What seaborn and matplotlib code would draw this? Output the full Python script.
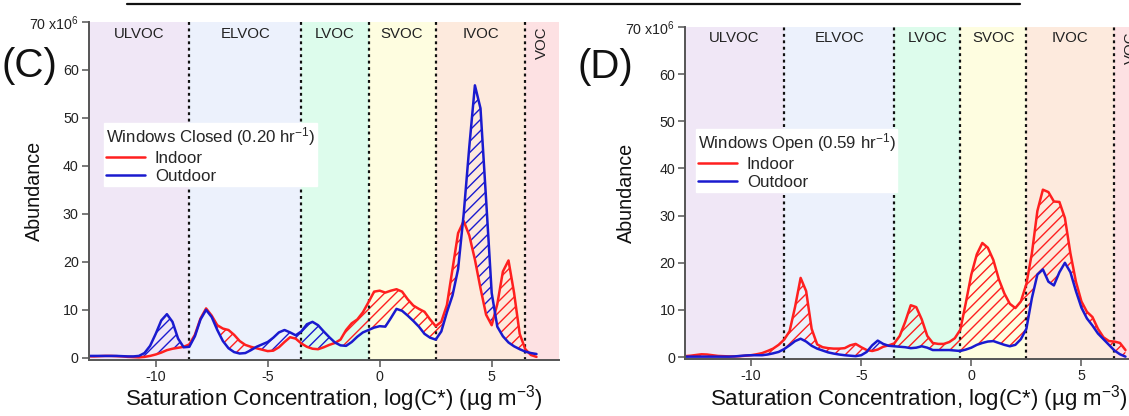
import numpy as np
import pandas as pd
import matplotlib
matplotlib.use("Agg")
import matplotlib.pyplot as plt
from matplotlib.lines import Line2D
import seaborn as sns

# ---------------- data ----------------
log_c = np.linspace(-13, 7, 81)  # sampling grid, step 0.25

closed_indoor = [
    0.3, 0.3, 0.35, 0.4,
    0.4, 0.35, 0.3, 0.2,
    0.15, 0.1, 0.2, 0.4,
    0.7, 1.1, 1.6, 1.9,
    2.1, 2.3, 2.8, 4.8,
    8.2, 10.3, 8.8, 6.8,
    6.1, 5.8, 4.8, 3.5,
    2.7, 2.3, 2.0, 1.7,
    1.4, 1.5, 2.2, 3.3,
    4.3, 4.0, 3.0, 2.3,
    1.9, 1.8, 2.2, 2.7,
    3.1, 3.8, 5.8, 7.2,
    8.0, 9.5, 11.6, 13.8,
    14.0, 13.6, 14.0, 14.3,
    13.8, 12.2, 10.9, 10.2,
    9.6, 8.0, 6.6, 7.5,
    11.0, 18.5, 26.0, 28.5,
    25.5, 20.5, 14.5, 9.0,
    6.8, 11.2, 18.0, 20.3,
    13.5, 5.0, 1.8, 0.6,
    0.2]
closed_outdoor = [
    0.4, 0.4, 0.4, 0.4,
    0.4, 0.4, 0.35, 0.3,
    0.3, 0.4, 1.0, 2.5,
    5.0, 7.8, 9.1, 7.5,
    4.0, 2.2, 2.3, 4.5,
    8.0, 10.0, 8.5, 5.8,
    3.5, 2.0, 1.2, 0.9,
    1.0, 1.6, 2.3, 2.8,
    3.3, 4.2, 5.3, 5.8,
    5.3, 4.7, 5.5, 7.0,
    7.5, 6.8, 5.5, 4.3,
    3.2, 2.6, 2.5, 3.3,
    4.4, 5.3, 5.8, 6.3,
    6.6, 6.5, 8.3, 10.2,
    9.8, 8.8, 7.7, 6.5,
    5.0, 4.2, 3.8, 5.5,
    9.5, 13.0, 18.5, 30.0,
    44.0, 56.8, 52.0, 33.0,
    13.5, 6.5, 4.5, 3.2,
    2.4, 1.8, 1.3, 1.0,
    0.8]
open_indoor = [
    0.2, 0.3, 0.45, 0.6,
    0.55, 0.4, 0.25, 0.2,
    0.15, 0.15, 0.2, 0.3,
    0.4, 0.6, 0.85, 1.3,
    1.8, 2.6, 3.7, 5.5,
    10.7, 16.8, 14.0, 6.0,
    2.7, 2.1, 1.9, 1.8,
    1.8, 1.9, 2.5, 2.8,
    2.1, 1.5, 1.3, 1.6,
    2.2, 2.5, 2.9, 4.5,
    7.5, 11.0, 10.6, 8.0,
    4.5, 3.0, 2.8, 2.8,
    3.2, 4.0, 5.8, 11.5,
    17.5, 21.8, 24.2, 23.2,
    20.6, 16.5, 13.5, 11.3,
    10.4, 11.8, 15.5, 22.0,
    31.0, 35.5, 35.0, 33.0,
    32.9, 29.5, 22.0, 16.0,
    11.8, 9.6, 8.5, 6.0,
    4.2, 3.4, 3.3, 3.0,
    1.5]
open_outdoor = [
    0.1, 0.1, 0.1, 0.1,
    0.1, 0.1, 0.1, 0.1,
    0.1, 0.15, 0.25, 0.35,
    0.4, 0.4, 0.4, 0.55,
    0.8, 1.1, 1.7, 2.5,
    3.4, 3.9, 3.3, 2.4,
    1.8, 1.4, 1.0, 0.75,
    0.55, 0.4, 0.3, 0.2,
    0.4, 1.1, 2.5, 3.5,
    2.8, 2.4, 2.3, 2.2,
    2.1, 1.9, 2.0, 2.3,
    2.0, 1.5, 1.5, 1.5,
    1.5, 1.4, 1.3, 1.6,
    2.0, 2.6, 3.0, 3.3,
    3.4, 3.0, 2.6, 2.3,
    2.6, 3.8, 6.0, 12.5,
    17.5, 18.6, 16.0, 15.2,
    18.0, 20.0, 18.0, 14.0,
    10.5, 8.2, 6.7, 5.0,
    3.8, 2.6, 1.4, 0.6,
    0.1]

class_names = ["ULVOC", "ELVOC", "LVOC", "SVOC", "IVOC", "VOC"]
class_edges = [-13, -8.5, -3.5, -0.5, 2.5, 6.5, 8]
class_colors = ["#F0E7F6", "#ECF1FC", "#DDFCEC", "#FEFDE0", "#FDEADD", "#FDE1E3"]

y_ticks = [0, 10, 20, 30, 40, 50, 60, 70]
y_tick_labels = ["0", "10", "20", "30", "40", "50", "60", "70 x10$^{6}$"]
x_ticks = [-10, -5, 0, 5]
x_tick_labels = ["-10", "-5", "0", "5"]

panels = [
    dict(tag="(C)", title="Windows Closed (0.20 hr$^{-1}$)",
         indoor=closed_indoor, outdoor=closed_outdoor),
    dict(tag="(D)", title="Windows Open (0.59 hr$^{-1}$)",
         indoor=open_indoor, outdoor=open_outdoor),
]

RED = "#FF1F1F"
BLUE = "#1A1ACF"

# ---------------- style ----------------
sns.set_theme(style="ticks")
plt.rcParams["font.family"] = ["Liberation Sans", "DejaVu Sans"]
plt.rcParams["mathtext.fontset"] = "custom"
plt.rcParams["mathtext.rm"] = "Liberation Sans"
plt.rcParams["mathtext.it"] = "Liberation Sans:italic"
plt.rcParams["mathtext.bf"] = "Liberation Sans:bold"
plt.rcParams["axes.unicode_minus"] = False
plt.rcParams["hatch.linewidth"] = 1.0
plt.rcParams["lines.solid_joinstyle"] = "round"

W, H = 1129, 416
fig = plt.figure(figsize=(W / 100, H / 100), dpi=100)

rects = [
    dict(l=88.5, r=558.9, t=22, b=360, ymin=-0.45, tagx=2, tagy=66,
         leg=(104, 123), ylab_x=34, xlab=(334, 399)),
    dict(l=685, r=1147.5, t=27, b=359, ymin=-0.4, tagx=577, tagy=67,
         leg=(696, 129), ylab_x=626, xlab=(919, 399)),
]

for p, r in zip(panels, rects):
    ax = fig.add_axes([r["l"] / W, 1 - r["b"] / H,
                       (r["r"] - r["l"]) / W, (r["b"] - r["t"]) / H])
    ax.set_xlim(-13, 8)
    ax.set_ylim(r["ymin"], 70)
    ax.set_facecolor("white")

    for i, name in enumerate(class_names):
        lo, hi = class_edges[i], class_edges[i + 1]
        ax.axvspan(lo, hi, color=class_colors[i], lw=0, zorder=0)
        mid = (lo + hi) / 2
        if name == "VOC":
            ax.text(7.25, 69, name, rotation=90, ha="center", va="top",
                    fontsize=10.8, color="#222222", zorder=5)
        else:
            ax.text(mid, 67.6, name, ha="center", va="center",
                    fontsize=10.8, color="#222222", zorder=5)
    for e in class_edges[1:-1]:
        ax.axvline(e, color="#111111", lw=1.6, ls=(0, (1.3, 1.6)), zorder=3)

    ind = np.array(p["indoor"])
    out = np.array(p["outdoor"])
    ax.fill_between(log_c, ind, out, where=ind >= out, interpolate=True,
                    facecolor="none", edgecolor=RED, hatch="///", lw=0, zorder=2)
    ax.fill_between(log_c, ind, out, where=out > ind, interpolate=True,
                    facecolor="none", edgecolor=BLUE, hatch="///", lw=0, zorder=2)

    df = pd.DataFrame({
        "logC": np.concatenate([log_c, log_c]),
        "Abundance": np.concatenate([ind, out]),
        "Source": ["Indoor"] * len(log_c) + ["Outdoor"] * len(log_c),
    })
    sns.lineplot(data=df, x="logC", y="Abundance", hue="Source",
                 palette={"Indoor": RED, "Outdoor": BLUE}, lw=1.8,
                 ax=ax, zorder=4, legend=False)
    handles = [Line2D([0], [0], color=RED, lw=1.8),
               Line2D([0], [0], color=BLUE, lw=1.8)]
    lx = (r["leg"][0] - r["l"]) / (r["r"] - r["l"])
    ly = (r["b"] - r["leg"][1]) / (r["b"] - r["t"])
    leg = ax.legend(handles, ["Indoor", "Outdoor"], title=p["title"],
                    loc="upper left", bbox_to_anchor=(lx, ly),
                    borderaxespad=0, frameon=True, fancybox=False,
                    framealpha=1, facecolor="white", edgecolor="white",
                    fontsize=12.2, title_fontsize=12.2, alignment="left",
                    handlelength=2.3, handletextpad=0.6, labelspacing=0.2,
                    borderpad=0.1)
    leg.set_zorder(6)

    for s in ["top", "right"]:
        ax.spines[s].set_visible(False)
    for s in ["left", "bottom"]:
        ax.spines[s].set_color("#555555")
        ax.spines[s].set_linewidth(1.4)
        ax.spines[s].set_zorder(7)
    ax.set_yticks(y_ticks)
    ax.set_yticklabels(y_tick_labels)
    ax.set_xticks(x_ticks)
    ax.set_xticklabels(x_tick_labels)
    ax.tick_params(axis="both", direction="out", length=5, width=1.1,
                   color="#555555", labelsize=10.3, labelcolor="#222222", pad=2)
    ax.set_xlabel("Saturation Concentration, log(C*) (µg m$^{-3}$)",
                  fontsize=16, color="#111111")
    ax.set_ylabel("Abundance", fontsize=14.2, color="#111111")
    ax.yaxis.set_label_coords((r["ylab_x"] - r["l"]) / (r["r"] - r["l"]), 0.5)
    ax.xaxis.set_label_coords((r["xlab"][0] - r["l"]) / (r["r"] - r["l"]),
                              (r["b"] - r["xlab"][1]) / (r["b"] - r["t"]))
    ax.xaxis.label.set_va("center")
    ax.yaxis.label.set_va("center")

    fig.text(r["tagx"] / W, 1 - r["tagy"] / H, p["tag"], fontsize=29,
             ha="left", va="center", color="#111111")

fig.add_artist(Line2D([127 / W, 1020 / W], [1 - 4 / H, 1 - 4 / H],
                      color="#111111", lw=1.6))

fig.savefig("out.png", dpi=100)
